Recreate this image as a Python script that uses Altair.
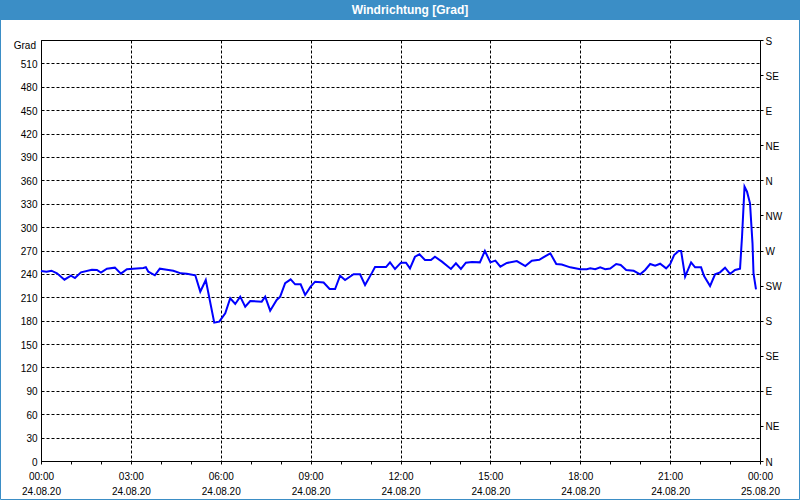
import altair as alt
import pandas as pd

# ---- data (24.08.2020) ----
times = [
    "00:00", "00:11", "00:21", "00:32", "00:47", "01:00", "01:08", "01:20", "01:42", "01:52",
    "02:00", "02:12", "02:28", "02:40", "02:52", "03:25", "03:30", "03:35", "03:48", "03:58",
    "04:12", "04:25", "04:40", "04:52", "05:09", "05:19", "05:30", "05:47", "05:57", "06:09",
    "06:19", "06:29", "06:39", "06:49", "06:59", "07:22", "07:29", "07:39", "07:52", "07:59",
    "08:09", "08:20", "08:29", "08:40", "08:49", "09:00", "09:09", "09:26", "09:38", "09:49",
    "09:59", "10:09", "10:26", "10:39", "10:49", "11:03", "11:09", "11:31", "11:39", "11:49",
    "12:01", "12:11", "12:19", "12:29", "12:38", "12:49", "13:01", "13:09", "13:23", "13:41",
    "13:51", "14:01", "14:11", "14:23", "14:39", "14:49", "15:00", "15:10", "15:20", "15:33",
    "15:53", "16:10", "16:23", "16:38",
    "16:46", "17:00", "17:12", "17:23", "17:40", "18:00", "18:13", "18:20", "18:30", "18:40",
    "18:50", "19:00", "19:12", "19:21", "19:32", "19:47", "20:00", "20:10", "20:20", "20:30",
    "20:40", "20:52", "21:00", "21:08", "21:17", "21:22", "21:30", "21:42", "21:50", "22:02",
    "22:08", "22:20", "22:30", "22:40", "22:50", "23:00", "23:10", "23:20", "23:24", "23:29",
    "23:34", "23:40", "23:45", "23:47", "23:52",
]
values = [
    243.7, 242.8, 244.1, 240.7, 232.6, 237.7, 234.7, 242.0, 245.4, 245.0,
    241.6, 246.7, 248.0, 240.3, 245.9, 247.6, 248.5, 242.8, 238.2, 246.7,
    245.4, 244.1, 240.7, 240.3, 238.2, 217.2, 232.2, 177.4, 178.7, 189.4,
    208.7, 201.4, 210.8, 198.0, 205.2, 204.4, 210.8, 192.8, 206.5, 210.8,
    228.0, 233.0, 226.6, 226.6, 213.0, 223.6, 230.0, 229.0, 220.6, 220.6,
    237.7, 232.2, 239.5, 239.5, 225.8, 241.6, 248.8, 248.8, 254.8, 246.3,
    254.4, 254.4, 247.1, 262.0, 265.1, 257.8, 257.8, 262.0, 255.7, 246.3,
    253.5, 246.3, 254.4, 255.3, 254.8, 269.4, 254.8, 257.0, 249.3, 254.0,
    256.5, 250.0, 257.0, 258.0,
    261.2, 266.4, 252.7, 252.0, 248.4, 245.9, 245.9, 247.1, 245.9, 248.4,
    246.0, 247.0, 252.7, 251.5, 245.0, 244.0, 239.5, 245.0, 252.7, 250.5,
    253.0, 247.1, 252.3, 264.2, 269.4, 269.4, 236.4, 254.8, 248.4, 248.4,
    237.3, 224.5, 239.5, 242.0, 248.0, 239.9, 245.0, 246.7, 287.7, 351.8,
    345.4, 330.5, 279.2, 240.7, 220.2,
]
left_ticks = list(range(0, 511, 30))
right_ticks = list(range(0, 541, 45))
dir_labels = ["N", "NE", "E", "SE", "S", "SW", "W", "NW", "N", "NE", "E", "SE", "S"]
title_text = "Windrichtung [Grad]"
unit_text = "Grad"

BLUE = "#3b8ec6"
FONT = "Liberation Sans"

df = pd.DataFrame({"t": ["2020-08-24T" + t + ":00" for t in times], "v": values})
deco = pd.DataFrame({"a": [0]})

hour_ticks = [alt.DateTime(year=2020, month=8, date=24, hours=h) for h in range(24)] + [
    alt.DateTime(year=2020, month=8, date=25, hours=0)
]
x_domain = [hour_ticks[0], hour_ticks[-1]]

x_axis = alt.Axis(
    values=hour_ticks,
    labelExpr="hours(datum.value) % 3 == 0 ? [timeFormat(datum.value, '%H:%M'), timeFormat(datum.value, '%d.%m.%y')] : ''",
    tickSize=3,
    tickColor="black",
    domainColor="black",
    labelPadding=7,
    labelLineHeight=15,
    labelFlush=False,
    labelOverlap=False,
    labelAngle=0,
    grid=True,
    gridColor="black",
    gridDash=[3, 2],
    gridOpacity={"condition": {"test": "hours(datum.value) % 3 == 0", "value": 1}, "value": 0},
    title=None,
)
x_enc = alt.X("t:T", scale=alt.Scale(domain=x_domain), axis=x_axis)

labels_js = "[" + ",".join("'" + d + "'" for d in dir_labels) + "]"

line = alt.Chart(df).mark_line(color="#0000ff", strokeWidth=2).encode(
    x=x_enc,
    y=alt.Y(
        "v:Q",
        scale=alt.Scale(domain=[0, 540], nice=False),
        axis=alt.Axis(
            orient="left",
            values=left_ticks,
            ticks=False,
            labelPadding=4,
            labelOffset=1,
            domainColor="black",
            grid=True,
            gridColor="black",
            gridDash=[3, 2],
            title=None,
        ),
    ),
)

right = alt.Chart(df).mark_line(opacity=0).encode(
    x=x_enc,
    y=alt.Y(
        "v:Q",
        scale=alt.Scale(domain=[0, 540], nice=False),
        axis=alt.Axis(
            orient="right",
            values=right_ticks,
            labelExpr=labels_js + "[round(datum.value / 45)]",
            tickSize=3,
            tickColor="black",
            labelPadding=2,
            labelOffset=1,
            domainColor="black",
            grid=False,
            title=None,
        ),
    ),
)

title_bar = alt.Chart(deco).mark_rect(color=BLUE).encode(
    x=alt.value(-41), x2=alt.value(759), y=alt.value(-40), y2=alt.value(-20)
)
title = alt.Chart(deco).mark_text(
    text=title_text, color="white", font=FONT, fontSize=12, fontWeight="bold",
    align="center", baseline="middle",
).encode(x=alt.value(369), y=alt.value(-30))
unit = alt.Chart(deco).mark_text(
    text=unit_text, color="black", font=FONT, fontSize=10, align="right", baseline="middle",
).encode(x=alt.value(-5), y=alt.value(6))
frame = alt.Chart(deco).mark_rect(filled=False, color=BLUE, stroke=BLUE, strokeWidth=1).encode(
    x=alt.value(-40.5), x2=alt.value(758.5), y=alt.value(-39.5), y2=alt.value(459.5)
)

chart = (
    alt.layer(line, right, title_bar, title, unit, frame)
    .resolve_scale(y="independent")
    .properties(
        width=719,
        height=421,
        autosize=alt.AutoSizeParams(type="none"),
        padding={"left": 41, "top": 40, "right": 40, "bottom": 39},
        background="white",
    )
    .configure_view(stroke="black", strokeWidth=1)
    .configure_axis(labelFont=FONT, labelFontSize=10, labelColor="black")
)

chart.save("out.html", embed_options={"renderer": "svg", "actions": False})
